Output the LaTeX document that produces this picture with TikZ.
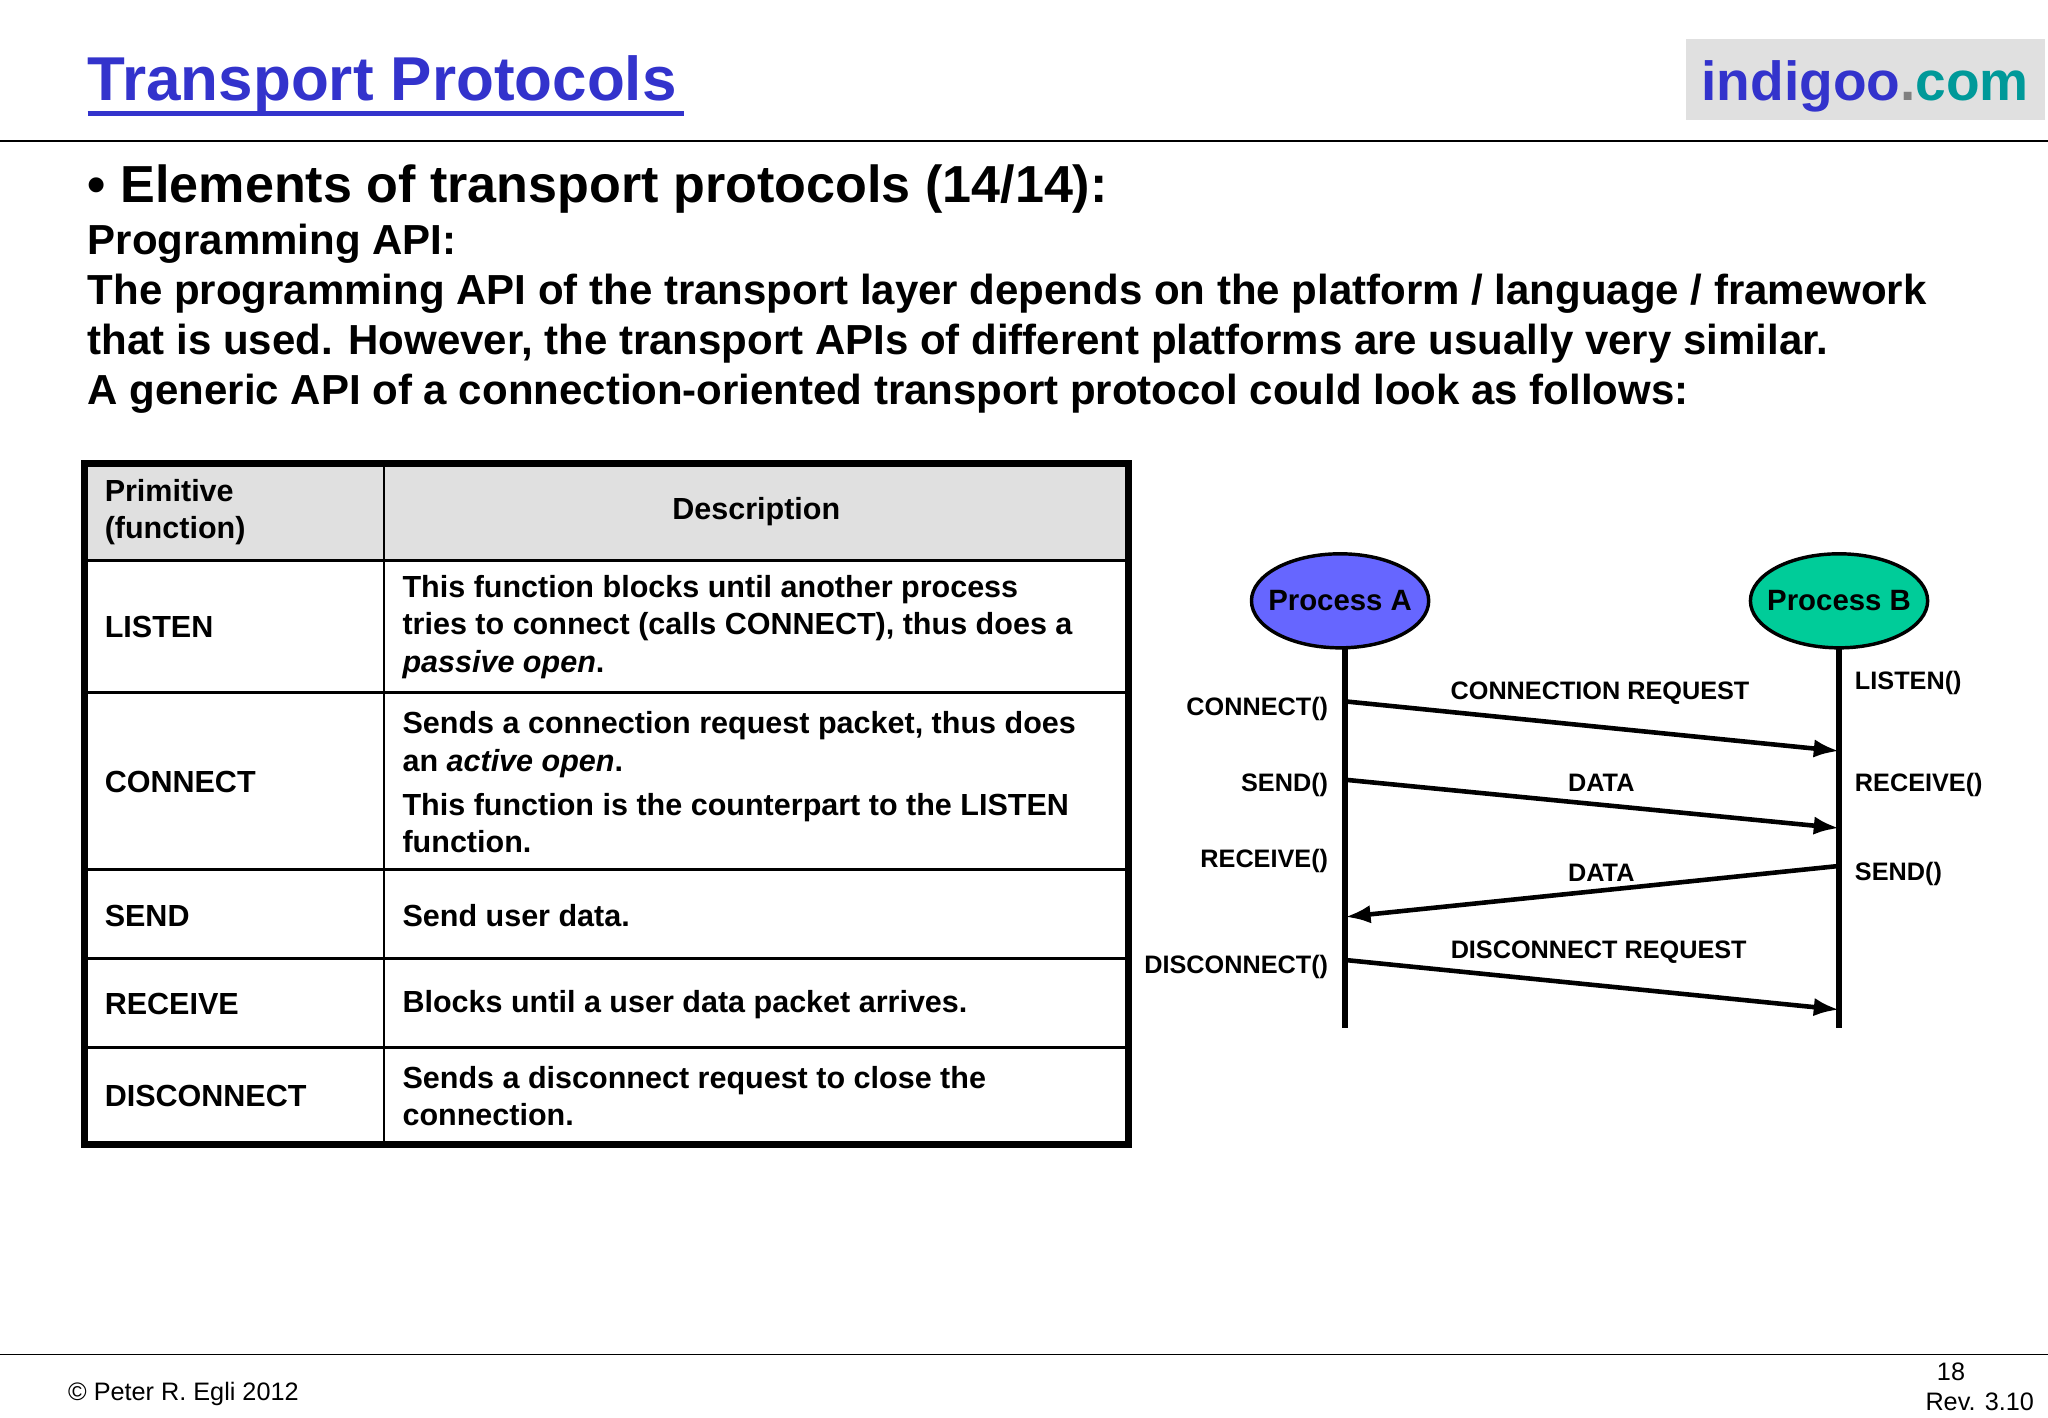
\documentclass[tikz,border=0pt]{standalone}
\usepackage{fontspec}
\setmainfont{Liberation Sans}
\definecolor{tblue}{HTML}{3333CC}
\definecolor{tgray}{HTML}{E0E0E0}
\definecolor{pa}{HTML}{6666FF}
\definecolor{pb}{HTML}{00CC99}
\definecolor{comc}{HTML}{009999}
\begin{document}
\begin{tikzpicture}[x=0.02cm,y=-0.02cm,
  cell/.style={anchor=west,align=left,font=\fontsize{13.3}{16.3}\selectfont\bfseries},
  lab/.style={font=\fontsize{11}{12}\selectfont\bfseries},
  proc/.style={ellipse,draw,line width=1.5pt,inner xsep=-4pt,inner ysep=0pt,minimum height=72*0.02cm,font=\fontsize{12.8}{14}\selectfont\bfseries},
  msg/.style={line width=2pt,-{Latex[length=11pt,width=8pt]}}]
\usetikzlibrary{shapes.geometric,arrows.meta}
\useasboundingbox[fill=white] (0,0) rectangle (1568,1085);
% header
\node[anchor=base west,font=\fontsize{27}{30}\selectfont\bfseries,text=tblue,inner sep=0pt] (title) at (67,77) {Transport Protocols};
\draw[tblue,line width=2pt] (67,87) -- (524,87);
\fill[tgray] (1291,30) rectangle (1566,92);
\node[anchor=base,font=\fontsize{24}{28}\selectfont\bfseries] (logo) at (1428,77) {\textcolor{tblue}{indigoo}\textcolor{gray}{.}\textcolor{comc}{com}};
\draw[line width=0.8pt] (0,108) -- (1568,108);
% text
\node[anchor=base west,font=\fontsize{22.7}{26}\selectfont\bfseries,inner sep=0pt] (h1) at (67,155) {• Elements of transport protocols (14/14):};
\node[anchor=north west,align=left,font=\fontsize{18.3}{21.8}\selectfont\bfseries,inner sep=0pt] (body) at (67,171) {Programming API:\\The programming API of the transport layer depends on the platform / language / framework\\that is used. However, the transport APIs of different platforms are usually very similar.\\A generic API of a connection-oriented transport protocol could look as follows:};
% table
\fill[tgray] (65,355) rectangle (864,429);
\foreach \y in {429,530,666,734,802} \draw[line width=1.3pt] (65,\y) -- (864,\y);
\draw[line width=1.3pt] (294,355) -- (294,876);
\draw[line width=3pt] (65,355) rectangle (864,876);
\node[cell] (c1) at (74,392) {Primitive\\(function)};
\node[font=\fontsize{13.3}{15}\selectfont\bfseries] (c2) at (579,392) {Description};
\node[cell] (l1) at (74,480) {LISTEN};
\node[cell] (d1) at (302,480) {This function blocks until another process\\tries to connect (calls CONNECT), thus does a\\\textit{passive open}.};
\node[cell] (l2) at (74,599) {CONNECT};
\node[cell] (d2) at (302,599) {Sends a connection request packet, thus does\\an \textit{active open}.\\[3pt]This function is the counterpart to the LISTEN\\function.};
\node[cell] (l3) at (74,701) {SEND};
\node[cell] (d3) at (302,701) {Send user data.};
\node[cell] (l4) at (74,769) {RECEIVE};
\node[cell] (d4) at (302,769) {Blocks until a user data packet arrives.};
\node[cell] (l5) at (74,839) {DISCONNECT};
\node[cell] (d5) at (302,839) {Sends a disconnect request to close the\\connection.};
% diagram
\coordinate (at) at (1030,496); \coordinate (ab) at (1030,787);
\coordinate (bt) at (1408,496); \coordinate (bb) at (1408,787);
\draw[line width=2.5pt] (at) -- (ab);
\draw[line width=2.5pt] (bt) -- (bb);
\node[proc,fill=pa] (A) at (1026,460) {Process A};
\node[proc,fill=pb] (B) at (1408,460) {Process B};
\coordinate (a1) at (1030,537); \coordinate (b1) at (1408,575);
\coordinate (a2) at (1030,597); \coordinate (b2) at (1408,634);
\coordinate (b3) at (1408,663); \coordinate (a3) at (1030,702);
\coordinate (a4) at (1030,735); \coordinate (b4) at (1408,773);
\draw[msg] (a1) -- (b1);
\draw[msg] (a2) -- (b2);
\draw[msg] (b3) -- (a3);
\draw[msg] (a4) -- (b4);
\node[lab] (m1) at (1225,531) {CONNECTION REQUEST};
\node[lab] (m2) at (1226,599) {DATA};
\node[lab] (m3) at (1226,668) {DATA};
\node[lab] (m4) at (1224,729) {DISCONNECT REQUEST};
\node[lab,anchor=east] (la1) at (1023,543) {CONNECT()};
\node[lab,anchor=east] (la2) at (1023,601) {SEND()};
\node[lab,anchor=east] (la3) at (1023,659) {RECEIVE()};
\node[lab,anchor=east] (la4) at (1023,740) {DISCONNECT()};
\node[lab,anchor=west] (lb1) at (1414,523) {LISTEN()};
\node[lab,anchor=west] (lb2) at (1414,601) {RECEIVE()};
\node[lab,anchor=west] (lb3) at (1414,669) {SEND()};
% footer
\draw[line width=0.8pt] (0,1037) -- (1568,1037);
\node[anchor=west,font=\fontsize{11}{12}\selectfont] (copy) at (46,1067) {© Peter R. Egli 2012};
\node[anchor=west,align=left,font=\fontsize{11}{13}\selectfont] (page) at (1468,1062) {\hspace*{5pt}18\\Rev. 3.10};
\end{tikzpicture}
\end{document}
